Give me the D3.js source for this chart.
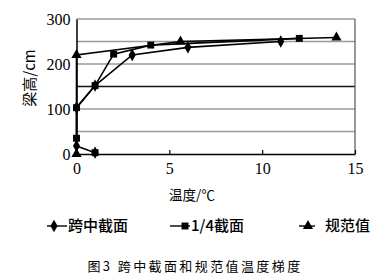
<!DOCTYPE html>
<html>
<head>
<meta charset="utf-8">
<script src="https://cdn.jsdelivr.net/npm/d3@7"></script>
<style>
  body { margin: 0; background: #fff; }
  svg { display: block; }
</style>
</head>
<body>
<svg id="chart" width="390" height="279"></svg>
<script>
// temperature (x) vs beam height (y); null makes a gap in the line
const midTemps = [1, 0, null, 0, 1, 3, 6, 11]
const midHeights = [3, 18, null, 103, 152, 220, 237, 250]
const quarterTemps = [1, null, 0, 0, 1, 2, 4, 12]
const quarterHeights = [3, null, 35, 103, 152, 222, 242, 257]
const specTemps = [0, 0, 5.6, 14]
const specHeights = [0, 220, 250, 259]

const seriesNames = ['跨中截面', '1/4截面', '规范值']
const xTicks = [0, 5, 10, 15]
const yTicks = [0, 100, 200, 300]
const gridValues = [50, 100, 150, 200, 250, 300]

const margin = { top: 19, right: 35, bottom: 125, left: 76.5 }
const width = 390 - margin.left - margin.right
const height = 279 - margin.top - margin.bottom

const xScale = d3.scaleLinear().domain([0, 15]).range([0, width])
const yScale = d3.scaleLinear().domain([0, 300]).range([height, 0])

const svg = d3.select('#chart')
const g = svg.append('g').attr('transform', `translate(${margin.left},${margin.top})`)

// gridlines
g.selectAll('.grid').data(gridValues).enter().append('line')
  .attr('x1', 0).attr('x2', width)
  .attr('y1', d => yScale(d)).attr('y2', d => yScale(d))
  .attr('stroke', d => d === 150 ? '#111' : '#9a9a9a')
  .attr('stroke-width', 1.5)

// right border
g.append('line').attr('x1', width).attr('x2', width).attr('y1', 0).attr('y2', height)
  .attr('stroke', '#555').attr('stroke-width', 1.2)

// axes
const xAxis = g.append('g').attr('transform', `translate(0,${height})`)
  .call(d3.axisBottom(xScale).tickValues(xTicks).tickSizeInner(-4).tickSizeOuter(0).tickPadding(9))
const yAxis = g.append('g')
  .call(d3.axisLeft(yScale).tickValues(yTicks).tickSize(0).tickPadding(6))
;[xAxis, yAxis].forEach(a => {
  a.select('.domain').attr('stroke', '#000').attr('stroke-width', 1.5)
  a.selectAll('.tick line').attr('stroke', '#000').attr('stroke-width', 1.2)
  a.selectAll('text').attr('font-family', '"Liberation Serif", serif')
    .attr('font-size', 16).attr('fill', '#000')
})

function zip(xs, ys) {
  return xs.map((x, i) => ({ x: x, y: ys[i] }))
}
const series = [
  { name: seriesNames[0], pts: zip(midTemps, midHeights), symbol: d3.symbolDiamond, size: 44 },
  { name: seriesNames[1], pts: zip(quarterTemps, quarterHeights), symbol: d3.symbolSquare, size: 48 },
  { name: seriesNames[2], pts: zip(specTemps, specHeights), symbol: d3.symbolTriangle, size: 45 }
]

const line = d3.line()
  .defined(d => d.x !== null && d.y !== null)
  .x(d => xScale(d.x)).y(d => yScale(d.y))

series.forEach(s => {
  g.append('path').datum(s.pts)
    .attr('d', line)
    .attr('fill', 'none').attr('stroke', '#000').attr('stroke-width', 1.6)
})
series.forEach(s => {
  g.selectAll(null).data(s.pts.filter(d => d.x !== null)).enter().append('path')
    .attr('d', d3.symbol().type(s.symbol).size(s.size))
    .attr('transform', d => `translate(${xScale(d.x)},${yScale(d.y)})`)
    .attr('fill', '#000')
})

// axis titles
svg.append('text')
  .attr('transform', `translate(35,${margin.top + 59}) rotate(-90)`)
  .attr('text-anchor', 'middle')
  .attr('font-family', '"Noto Sans CJK SC", "Liberation Serif", serif')
  .attr('font-size', 15)
  .text('梁高/cm')
svg.append('text')
  .attr('x', 192).attr('y', 200)
  .attr('text-anchor', 'middle')
  .attr('font-family', '"Noto Sans CJK SC", serif')
  .attr('font-size', 13.5)
  .text('温度/℃')

// legend
const legendX = [47, 170, 299]
const legend = svg.selectAll('.legend').data(series).enter().append('g')
  .attr('transform', (d, i) => `translate(${legendX[i]},226)`)
legend.append('line').attr('x1', 0).attr('x2', (d, i) => i === 2 ? 16 : 20)
  .attr('y1', 0).attr('y2', 0).attr('stroke', '#000').attr('stroke-width', 1.4)
legend.append('path')
  .attr('d', d => d3.symbol().type(d.symbol).size(d.size)())
  .attr('transform', (d, i) => `translate(${i === 2 ? 9 : i === 1 ? 15 : 7},0)`)
legend.append('text')
  .attr('x', (d, i) => i === 2 ? 26 : 21)
  .attr('y', 0).attr('dy', '0.36em')
  .attr('font-family', '"Noto Sans CJK SC", serif')
  .attr('font-size', 15).attr('font-weight', 500)
  .text(d => d.name)

// caption
svg.append('text')
  .attr('x', 195).attr('y', 271)
  .attr('text-anchor', 'middle')
  .attr('font-family', '"Noto Sans CJK SC", serif')
  .attr('font-size', 13).attr('letter-spacing', 2.4)
  .text('图3  跨中截面和规范值温度梯度')
</script>
</body>
</html>
